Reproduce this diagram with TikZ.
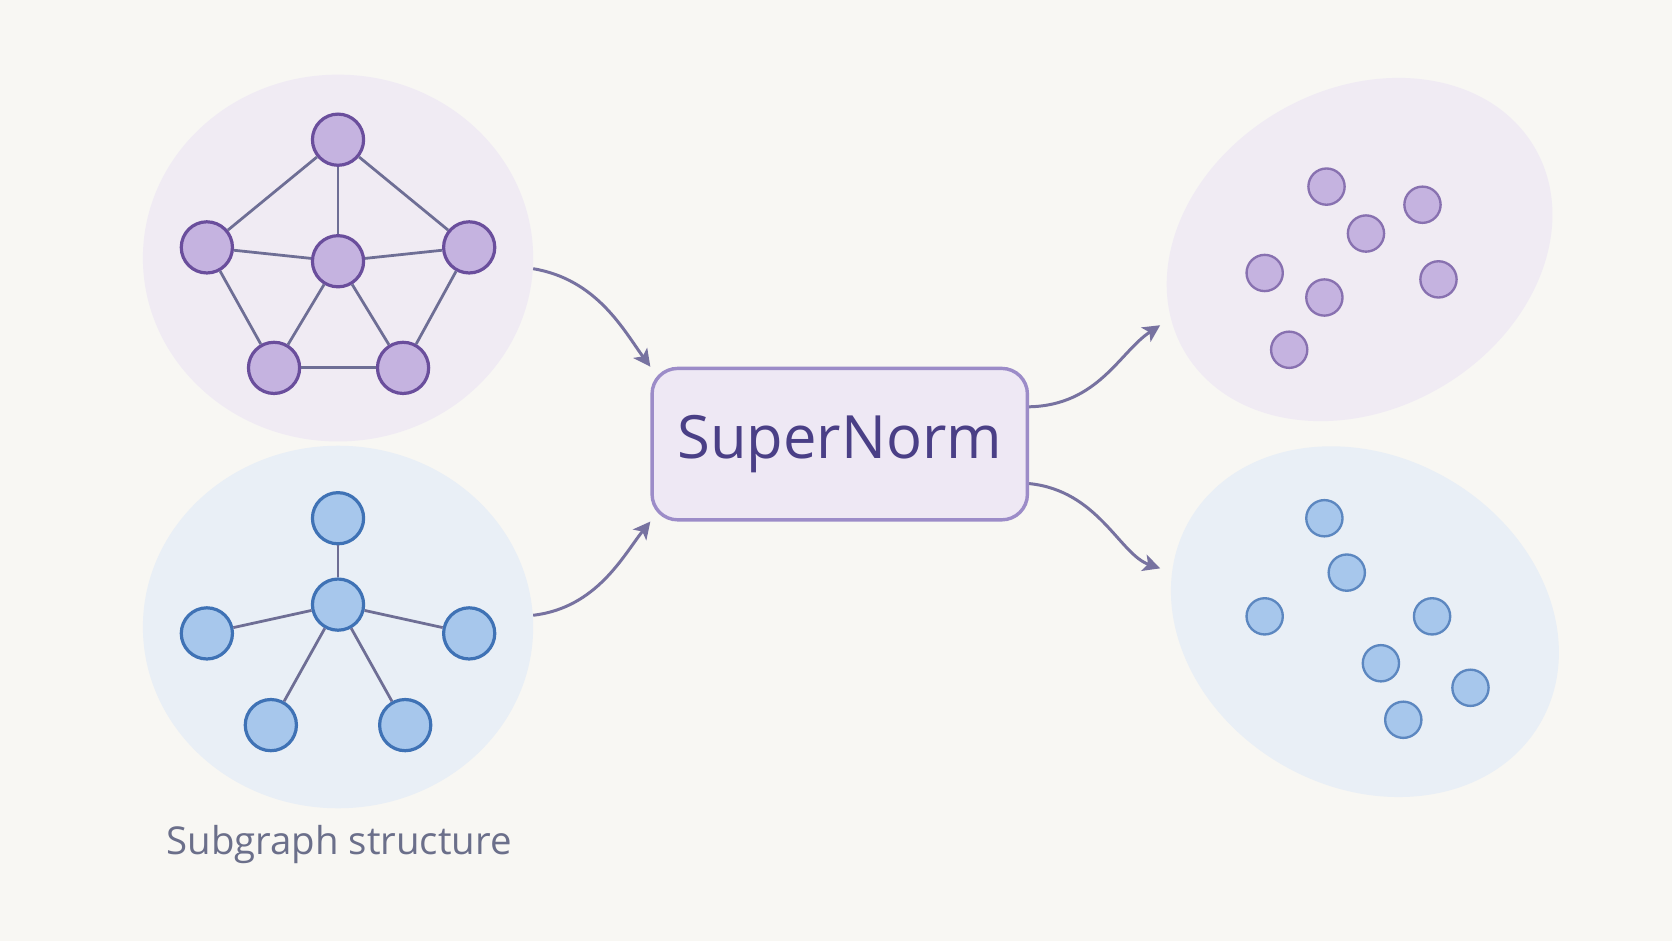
\documentclass[tikz,border=0pt]{standalone}
\usepackage{fontspec}
\setmainfont{Open Sans}
\usetikzlibrary{arrows.meta}
\definecolor{bgcol}{HTML}{F8F7F3}
\definecolor{purpfill}{HTML}{C5B3E0}
\definecolor{purpline}{HTML}{6A4E9C}
\definecolor{bluefill}{HTML}{A7C7EC}
\definecolor{blueline}{HTML}{3F72B5}
\definecolor{edgecol}{HTML}{6E6E95}
\definecolor{purpbg}{HTML}{F0EBF3}
\definecolor{bluebg}{HTML}{E9EFF6}
\definecolor{boxfill}{HTML}{EEE8F4}
\definecolor{boxline}{HTML}{9C8CC8}
\definecolor{boxtext}{HTML}{4A3F86}
\definecolor{labcol}{HTML}{6B6F8A}
\definecolor{arrcol}{HTML}{7772A0}
\tikzset{
  pnode/.style={circle,draw=purpline,fill=purpfill,line width=1.5pt,minimum size=24pt,inner sep=0pt},
  bnode/.style={circle,draw=blueline,fill=bluefill,line width=1.5pt,minimum size=24pt,inner sep=0pt},
  pdot/.style={circle,draw=purpline!80,fill=purpfill,line width=1.1pt,minimum size=17pt,inner sep=0pt},
  bdot/.style={circle,draw=blueline!85,fill=bluefill,line width=1.1pt,minimum size=17pt,inner sep=0pt},
  edge/.style={draw=edgecol,line width=1.3pt},
  flow/.style={draw=arrcol,line width=1.4pt,-{Stealth[length=8pt,width=8pt,inset=2pt]}}
}
\begin{document}
\begin{tikzpicture}[x=0.5pt,y=-0.5pt]
\fill[bgcol] (0,0) rectangle (1568,882);
\useasboundingbox (0,0) rectangle (1568,882);
% Drawing backgrounds
\fill[purpbg] (317,242) ellipse [x radius=183, y radius=172];
\fill[bluebg] (317,588) ellipse [x radius=183, y radius=170];
\fill[purpbg] (1275,234) ellipse [x radius=190, y radius=150, rotate=30];
\fill[bluebg] (1280,583) ellipse [x radius=190, y radius=155, rotate=-30];
% Top graph
\node[pnode] (pt) at (317,131) {};
\node[pnode] (pl) at (194,232) {};
\node[pnode] (pc) at (317,245) {};
\node[pnode] (pr) at (440,232) {};
\node[pnode] (pbl) at (257,345) {};
\node[pnode] (pbr) at (378,345) {};
\foreach \a/\b in {pt/pl,pt/pr,pt/pc,pl/pc,pc/pr,pl/pbl,pr/pbr,pbl/pbr,pc/pbl,pc/pbr}
  \draw[edge] (\a) -- (\b);
% Bottom graph
\node[bnode] (bt) at (317,486) {};
\node[bnode] (bc) at (317,567) {};
\node[bnode] (bl) at (194,594) {};
\node[bnode] (br) at (440,594) {};
\node[bnode] (bbl) at (254,680) {};
\node[bnode] (bbr) at (380,680) {};
\foreach \b in {bt,bl,br,bbl,bbr}
  \draw[edge] (bc) -- (\b);
\node[text=labcol,font=\fontsize{18}{20}\selectfont] (lab) at (318,792) {Subgraph structure};
% Center box
\node[draw=boxline,fill=boxfill,line width=1.6pt,rounded corners=12pt,minimum width=176pt,minimum height=71pt,
  text=boxtext,font=\fontsize{28}{32}\selectfont] (norm) at (787.5,416.5) {SuperNorm};
% Output dots
\foreach \x/\y [count=\i] in {1244/175,1334/192,1281/219,1186/256,1242/279,1349/262,1209/328}
  \node[pdot] (p\i) at (\x,\y) {};
\foreach \x/\y [count=\i] in {1242/486,1263/537,1186/578,1343/578,1295/622,1379/645,1316/675}
  \node[bdot] (q\i) at (\x,\y) {};
% Arrows
\coordinate (a1) at (500,252);
\coordinate (a2) at (500,577);
\coordinate (o1) at (1088,305);
\coordinate (o2) at (1088,533);
\draw[flow] (a1) .. controls (560,262) and (585,310) .. (norm.north west);
\draw[flow] (a2) .. controls (560,570) and (585,520) .. (norm.south west);
\draw[flow] ([yshift=17.5pt]norm.east) .. controls (1030,380) and (1050,330) .. (o1);
\draw[flow] ([yshift=-18.5pt]norm.east) .. controls (1030,460) and (1050,520) .. (o2);
\end{tikzpicture}
\end{document}
